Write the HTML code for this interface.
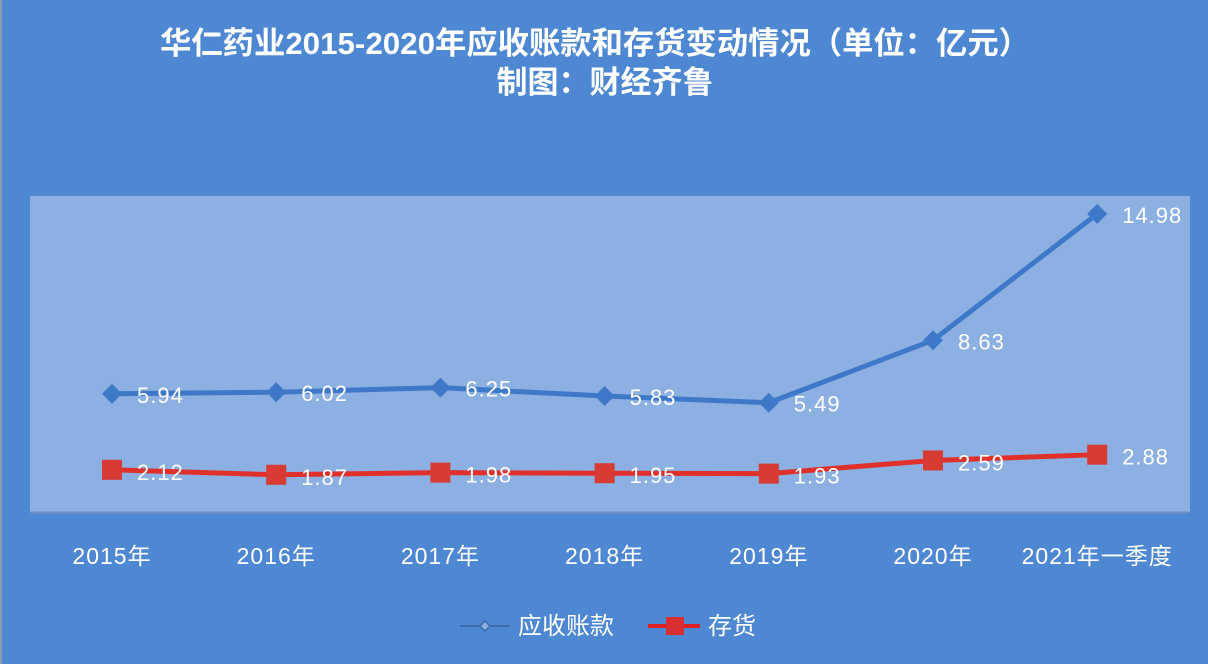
<!DOCTYPE html>
<html><head><meta charset="utf-8"><style>
body{margin:0;width:1208px;height:664px;overflow:hidden;background:#4f88d2;font-family:"Liberation Sans","Noto Sans CJK SC",sans-serif;}
</style></head><body>
<svg width="1208" height="664" style="display:block">
<rect x="0" y="0" width="1208" height="664" fill="#4f88d2"/>
<rect x="0" y="0" width="2" height="664" fill="#8a9bb0"/>
<text x="595" y="54" text-anchor="middle" font-size="31" font-weight="bold" fill="#fff" font-family="Liberation Sans,Noto Sans CJK SC,sans-serif" textLength="870" lengthAdjust="spacingAndGlyphs">华仁药业2015-2020年应收账款和存货变动情况（单位：亿元）</text>
<text x="605" y="93" text-anchor="middle" font-size="31" font-weight="bold" fill="#fff" font-family="Liberation Sans,Noto Sans CJK SC,sans-serif">制图：财经齐鲁</text>
<rect x="30" y="196" width="1160" height="316" fill="#8cb0e1"/>
<line x1="30" y1="512.5" x2="1190" y2="512.5" stroke="#6d8fbf" stroke-width="2"/>
<g id="marks"></g>
<g>
<line x1="460" y1="626" x2="510" y2="626" stroke="#3d6aa8" stroke-width="2"/>
<path d="M485 621 L490 626 L485 631 L480 626Z" fill="#8cb0e1" stroke="#3d6aa8" stroke-width="1.5"/>
<text x="518" y="634" font-size="24" fill="#fff">应收账款</text>
<line x1="648" y1="626" x2="700" y2="626" stroke="#e02020" stroke-width="4"/>
<rect x="666" y="617" width="18" height="18" fill="#d83030"/>
<text x="708" y="634" font-size="24" fill="#fff">存货</text>
</g>
</svg>
<script>
const categories=["2015年","2016年","2017年","2018年","2019年","2020年","2021年一季度"];
const receivables=[5.94,6.02,6.25,5.83,5.49,8.63,14.98];
const inventory=[2.12,1.87,1.98,1.95,1.93,2.59,2.88];
const NS="http://www.w3.org/2000/svg";
const g=document.getElementById('marks');
const svg=g.ownerSVGElement;
function xs(i){return 112+i*164.2;}
function ys(v){return 512-v*19.9;}
function mk(t,a){const e=document.createElementNS(NS,t);for(const k in a)e.setAttribute(k,a[k]);return e;}
function drawLine(vals,color,w,name){
 const p=mk('polyline',{points:vals.map((v,i)=>xs(i)+','+ys(v)).join(' '),fill:'none',stroke:color,'stroke-width':w,'stroke-linejoin':'round'});
 
 
 g.appendChild(p);
}
drawLine(receivables,'#3f78c8',5,'receivables-line');
drawLine(inventory,'#e0302c',5,'inventory-line');
receivables.forEach((v,i)=>{
 const x=xs(i),y=ys(v);
 const d=mk('path',{d:`M${x} ${y-10}L${x+10} ${y}L${x} ${y+10}L${x-10} ${y}Z`,fill:'#3f78c8'});
 
 
 g.appendChild(d);
 const t=mk('text',{x:x+25,y:y+9,'font-size':22,fill:'#fff','letter-spacing':1});
 t.textContent=v.toFixed(2);
 
 
 g.appendChild(t);
});
inventory.forEach((v,i)=>{
 const x=xs(i),y=ys(v);
 const r=mk('rect',{x:x-10,y:y-10,width:20,height:20,fill:'#d83a34'});
 
 
 g.appendChild(r);
 const t=mk('text',{x:x+25,y:y+10,'font-size':22,fill:'#fff','letter-spacing':1});
 t.textContent=v.toFixed(2);
 
 
 g.appendChild(t);
});
categories.forEach((c,i)=>{
 const t=mk('text',{x:xs(i),y:564,'font-size':23,fill:'#fff','text-anchor':'middle','letter-spacing':1});
 t.textContent=c;
 
 
 svg.appendChild(t);
});
</script>
</body></html>
